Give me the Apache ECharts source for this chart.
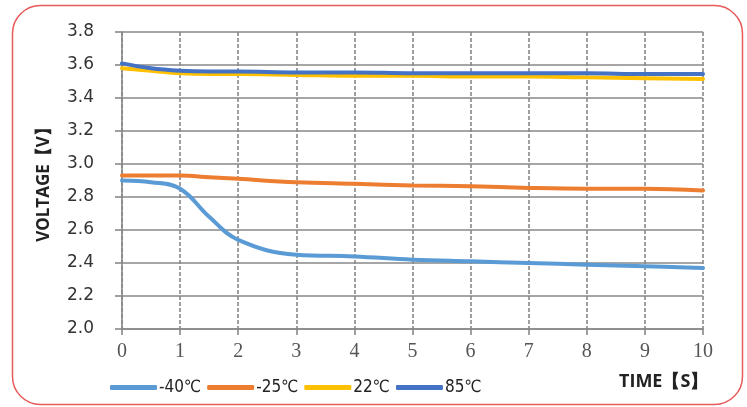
<!DOCTYPE html>
<html><head><meta charset="utf-8">
<script src="https://cdn.jsdelivr.net/npm/echarts@6/dist/echarts.min.js"></script>
<style>html,body{margin:0;padding:0;background:#fff}#c{width:747px;height:407px}</style>
</head><body><div id="c"></div>
<script>
const seriesNames = ['-40℃', '-25℃', '22℃', '85℃'];
const times = [0, 0.5, 1, 1.5, 2, 3, 4, 5, 6, 7, 8, 9, 10];
const v40 = [2.90, 2.89, 2.85, 2.68, 2.54, 2.45, 2.44, 2.42, 2.41, 2.40, 2.39, 2.38, 2.37];
const v25 = [2.93, 2.93, 2.93, 2.92, 2.91, 2.89, 2.88, 2.87, 2.865, 2.855, 2.85, 2.85, 2.84];
const v22 = [3.58, 3.565, 3.55, 3.545, 3.545, 3.54, 3.535, 3.535, 3.53, 3.53, 3.525, 3.52, 3.515];
const v85 = [3.61, 3.58, 3.565, 3.56, 3.56, 3.555, 3.555, 3.55, 3.55, 3.55, 3.55, 3.545, 3.545];
const colors = ['#5B9BD5', '#ED7D31', '#FFC000', '#4472C4'];
const xTicks = [0,1,2,3,4,5,6,7,8,9,10];

const allVals = [v40, v25, v22, v85];
const chart = echarts.init(document.getElementById('c'));
chart.setOption({
  animation: false,
  color: colors,
  grid: { left: 122, right: 44, top: 32, bottom: 78 },
  xAxis: {
    type: 'value', min: 0, max: 10, interval: 1,
    axisLine: { show: true, lineStyle: { color: '#888', width: 1.6 } },
    axisTick: { show: true, length: 6, lineStyle: { color: '#888', width: 1.6 } },
    axisLabel: { margin: 13, fontFamily: 'Liberation Serif, serif', fontSize: 20, color: '#555',
      formatter: v => xTicks.includes(v) ? String(v) : '' },
    splitLine: { show: true, lineStyle: { color: '#888', type: [4, 2], width: 1.6 } }
  },
  yAxis: {
    type: 'value', min: 2.0, max: 3.8, interval: 0.2,
    name: 'VOLTAGE【V】', nameLocation: 'middle', nameGap: 69, nameRotate: 90,
    nameTextStyle: { fontWeight: 'bold', fontSize: 17, color: '#222', fontFamily: 'Open Sans, DejaVu Sans, sans-serif' },
    axisLine: { show: true, lineStyle: { color: '#888', width: 1.6 } },
    axisTick: { show: true, length: 7, lineStyle: { color: '#888', width: 1.6 } },
    axisLabel: { margin: 28, fontFamily: 'DejaVu Sans, sans-serif', fontSize: 17, color: '#333',
      formatter: v => v.toFixed(1) },
    splitLine: { show: true, lineStyle: { color: '#888', width: 1.6 } }
  },
  legend: {
    left: 105, top: 374, itemWidth: 47, itemHeight: 5, itemGap: 6,
    icon: 'roundRect',
    textStyle: { fontSize: 17, color: '#222', fontFamily: 'Liberation Sans Narrow, DejaVu Sans Condensed, sans-serif', padding: [0,0,0,-3] },
    data: seriesNames
  },
  graphic: [
    { type: 'rect', left: 10, top: 3, z: -1, silent: true,
      shape: { width: 730, height: 399, r: 28 },
      style: { fill: 'none', stroke: '#E8595A', lineWidth: 1.5 } },
    { type: 'text', left: 619, top: 373,
      style: { text: 'TIME【S】', font: 'bold 18px "Open Sans", "DejaVu Sans", sans-serif', fill: '#222' } }
  ],
  series: seriesNames.map((n, i) => ({
    name: n, type: 'line', smooth: 0.4, showSymbol: false,
    lineStyle: { width: 4, color: colors[i], cap: 'round' },
    data: times.map((t, k) => [t, allVals[i][k]])
  }))
});
</script></body></html>
